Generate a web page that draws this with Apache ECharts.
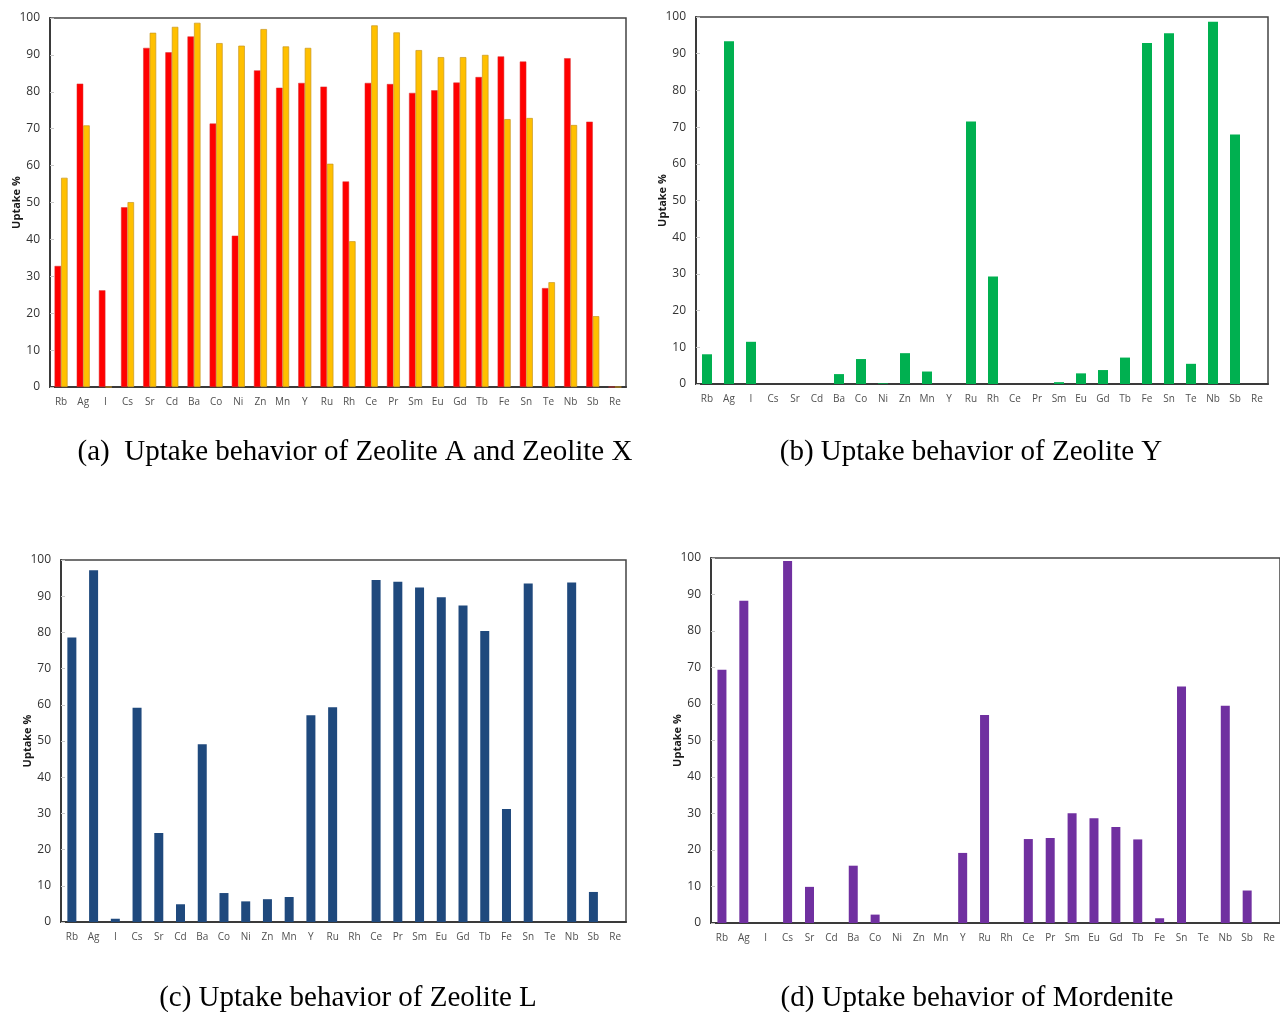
<!DOCTYPE html>
<html>
<head>
<meta charset="utf-8">
<script src="https://cdn.jsdelivr.net/npm/echarts@6/dist/echarts.min.js"></script>
<style>
  html, body { margin: 0; padding: 0; background: #fff; overflow: hidden; }
  #chart { width: 1280px; height: 1012px; }
</style>
</head>
<body>
<div id="chart"></div>
<script>
// elements on the x axis, same order in all four panels
var elements = ['Rb', 'Ag', 'I', 'Cs', 'Sr', 'Cd', 'Ba', 'Co', 'Ni', 'Zn', 'Mn', 'Y', 'Ru',
  'Rh', 'Ce', 'Pr', 'Sm', 'Eu', 'Gd', 'Tb', 'Fe', 'Sn', 'Te', 'Nb', 'Sb', 'Re']

// uptake %
var zeoliteA = [32.8, 82.2, 26.2, 48.7, 91.9, 90.7, 95.0, 71.4, 41.0, 85.8, 81.1, 82.4, 81.4,
  55.7, 82.4, 82.1, 79.7, 80.4, 82.5, 84.0, 89.6, 88.2, 26.8, 89.1, 71.9, 0]
var zeoliteX = [56.7, 70.9, 0, 50.1, 96.0, 97.6, 98.7, 93.2, 92.5, 97.0, 92.3, 91.9, 60.5,
  39.5, 98.0, 96.1, 91.3, 89.4, 89.4, 90.0, 72.6, 72.9, 28.4, 71.0, 19.2, 0]
var zeoliteY = [8.1, 93.4, 11.5, 0, 0, 0, 2.7, 6.8, 0.2, 8.4, 3.4, 0, 71.5,
  29.3, 0, 0, 0.5, 2.9, 3.8, 7.2, 92.9, 95.6, 5.5, 98.7, 68.0, 0]
var zeoliteL = [78.6, 97.2, 0.9, 59.2, 24.6, 4.9, 49.1, 8.0, 5.7, 6.3, 6.9, 57.1, 59.3,
  0, 94.5, 94.0, 92.4, 89.7, 87.4, 80.4, 31.2, 93.5, 0, 93.8, 8.3, 0]
var mordenite = [69.4, 88.3, 0, 99.2, 9.9, 0, 15.7, 2.3, 0, 0, 0, 19.2, 57.0,
  0, 23.0, 23.3, 30.1, 28.7, 26.3, 22.9, 1.3, 64.8, 0, 59.5, 8.9, 0]

var yTicks = { min: 0, max: 100, interval: 10 }

var captions = [
  '(a)  Uptake behavior of Zeolite A and Zeolite X',
  '(b) Uptake behavior of Zeolite Y',
  '(c) Uptake behavior of Zeolite L',
  '(d) Uptake behavior of Mordenite'
]

var grids = [
  { left: 50, top: 18, width: 576, height: 369 },
  { left: 696, top: 17, width: 572, height: 367 },
  { left: 61, top: 560, width: 565, height: 362 },
  { left: 711, top: 558, width: 572, height: 365 }
]

var chart = echarts.init(document.getElementById('chart'))

function xAxisFor(i) {
  return {
    gridIndex: i,
    type: 'category',
    data: elements,
    axisLine: { lineStyle: { color: '#3a3a3a', width: 2 } },
    axisTick: { inside: true, length: 4, lineStyle: { color: '#c8c8c8' } },
    axisLabel: { color: '#505050', fontSize: 10, margin: 10, interval: 0, fontFamily: 'Open Sans' }
  }
}

function yAxisFor(i) {
  return {
    gridIndex: i,
    type: 'value',
    min: yTicks.min,
    max: yTicks.max,
    interval: yTicks.interval,
    name: 'Uptake %',
    nameLocation: 'middle',
    nameRotate: 90,
    nameGap: 28,
    nameMoveOverlap: false,
    nameTextStyle: { fontSize: 11, fontWeight: 'bold', color: '#1a1a1a', fontFamily: 'Open Sans' },
    axisLine: { show: true, lineStyle: { color: '#3a3a3a', width: 2 } },
    axisTick: { show: true, inside: true, length: 4, lineStyle: { color: '#c8c8c8' } },
    splitLine: { show: false },
    axisLabel: { color: '#333', fontSize: 12, margin: 10, fontFamily: 'Open Sans' }
  }
}

chart.setOption({
  animation: false,
  grid: grids.map(function (g) {
    return Object.assign({ show: true, borderColor: '#444', borderWidth: 1.5 }, g)
  }),
  xAxis: [0, 1, 2, 3].map(xAxisFor),
  yAxis: [0, 1, 2, 3].map(yAxisFor),
  series: [
    {
      name: 'Zeolite A', type: 'bar', xAxisIndex: 0, yAxisIndex: 0,
      data: zeoliteA, barWidth: 6.5, barGap: '0%',
      itemStyle: { color: '#ff0000', borderColor: '#d83030', borderWidth: 0.5 }
    },
    {
      name: 'Zeolite X', type: 'bar', xAxisIndex: 0, yAxisIndex: 0,
      data: zeoliteX, barWidth: 6.5, barGap: '0%',
      itemStyle: { color: '#ffc000', borderColor: '#c8961e', borderWidth: 0.7 }
    },
    {
      name: 'Zeolite Y', type: 'bar', xAxisIndex: 1, yAxisIndex: 1,
      data: zeoliteY, barWidth: 10,
      itemStyle: { color: '#00b050' }
    },
    {
      name: 'Zeolite L', type: 'bar', xAxisIndex: 2, yAxisIndex: 2,
      data: zeoliteL, barWidth: 9,
      itemStyle: { color: '#1f497d' }
    },
    {
      name: 'Mordenite', type: 'bar', xAxisIndex: 3, yAxisIndex: 3,
      data: mordenite, barWidth: 9,
      itemStyle: { color: '#7030a0' }
    }
  ],
  graphic: [
    { x: 355, y: 452 }, { x: 971, y: 452 }, { x: 348, y: 998 }, { x: 977, y: 998 }
  ].map(function (p, i) {
    return {
      type: 'text', x: p.x, y: p.y,
      style: {
        text: captions[i], fill: '#000',
        font: '29px "Liberation Serif", "Times New Roman", serif',
        align: 'center', verticalAlign: 'middle'
      }
    }
  })
})
</script>
</body>
</html>
